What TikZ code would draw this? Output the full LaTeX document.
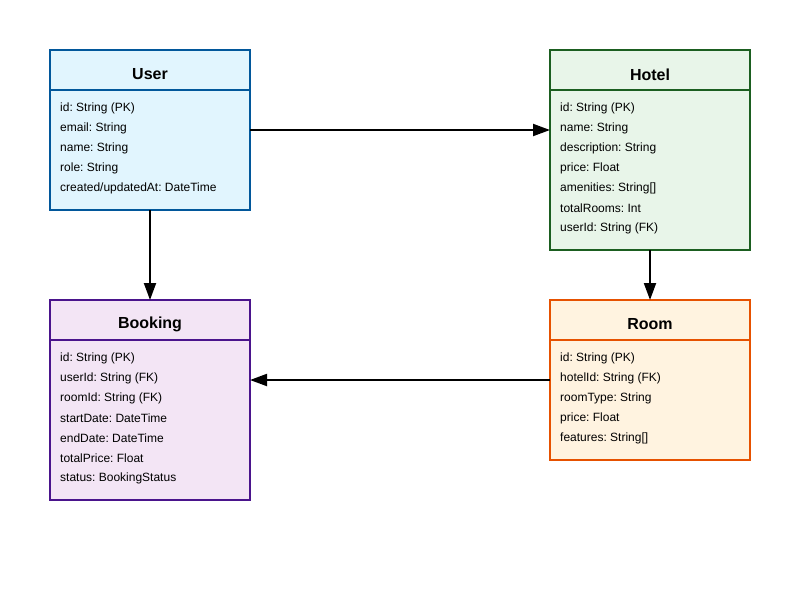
\documentclass[tikz,border=0pt]{standalone}
\usepackage{fontspec}
\setmainfont{Liberation Sans}
\usetikzlibrary{arrows.meta}
\definecolor{userfill}{HTML}{E1F5FE}\definecolor{userdraw}{HTML}{01579B}
\definecolor{hotelfill}{HTML}{E8F5E9}\definecolor{hoteldraw}{HTML}{1B5E20}
\definecolor{bookfill}{HTML}{F3E5F5}\definecolor{bookdraw}{HTML}{4A148C}
\definecolor{roomfill}{HTML}{FFF3E0}\definecolor{roomdraw}{HTML}{E65100}
\frenchspacing
\begin{document}
\begin{tikzpicture}[x=1pt,y=-1pt,
  entity/.style={draw, line width=2pt, rectangle, minimum width=200pt, inner sep=0pt, outer sep=0pt, anchor=north west},
  ttl/.style={font=\fontsize{16}{16}\selectfont\bfseries, anchor=center},
  fld/.style={font=\fontsize{12}{12}\selectfont, anchor=west, inner sep=0pt},
  conn/.style={line width=2pt, -{Triangle[length=17pt,width=12pt]}}]
\useasboundingbox (0,0) rectangle (800,600);
% User
\node[entity, fill=userfill, draw=userdraw, minimum height=160pt] (user) at (50,50) {};
\draw[userdraw, line width=2pt] (50,90) -- (250,90);
\node[ttl] (usert) at (150,74.5) {User};
\foreach \t [count=\i from 0] in {id: String (PK), email: String, name: String, role: String, created/updatedAt: DateTime}
  \node[fld] (u\i) at (60,108+20*\i) {\t};
% Hotel
\node[entity, fill=hotelfill, draw=hoteldraw, minimum height=200pt] (hotel) at (550,50) {};
\draw[hoteldraw, line width=2pt] (550,90) -- (750,90);
\node[ttl] (hotelt) at (650,74.5) {Hotel};
\foreach \t [count=\i from 0] in {id: String (PK), name: String, description: String, price: Float, amenities: String[], totalRooms: Int, userId: String (FK)}
  \node[fld] (h\i) at (560,108+20*\i) {\t};
% Booking
\node[entity, fill=bookfill, draw=bookdraw, minimum height=200pt] (book) at (50,300) {};
\draw[bookdraw, line width=2pt] (50,340) -- (250,340);
\node[ttl] (bookt) at (150,324.5) {Booking};
\foreach \t [count=\i from 0] in {id: String (PK), userId: String (FK), roomId: String (FK), startDate: DateTime, endDate: DateTime, totalPrice: Float, status: BookingStatus}
  \node[fld] (b\i) at (60,358+20*\i) {\t};
% Room
\node[entity, fill=roomfill, draw=roomdraw, minimum height=160pt] (room) at (550,300) {};
\draw[roomdraw, line width=2pt] (550,340) -- (750,340);
\node[ttl] (roomt) at (650,324.5) {Room};
\foreach \t [count=\i from 0] in {id: String (PK), hotelId: String (FK), roomType: String, price: Float, features: String[]}
  \node[fld] (r\i) at (560,358+20*\i) {\t};
% connectors
\coordinate (uh) at (250,130);
\draw[conn] (uh) -- (uh -| hotel.west);
\draw[conn] (user.south) -- (book.north);
\draw[conn] (hotel.south) -- (room.north);
\coordinate (rb) at (550,380);
\draw[conn] (rb) -- (rb -| book.east);
\end{tikzpicture}
\end{document}
